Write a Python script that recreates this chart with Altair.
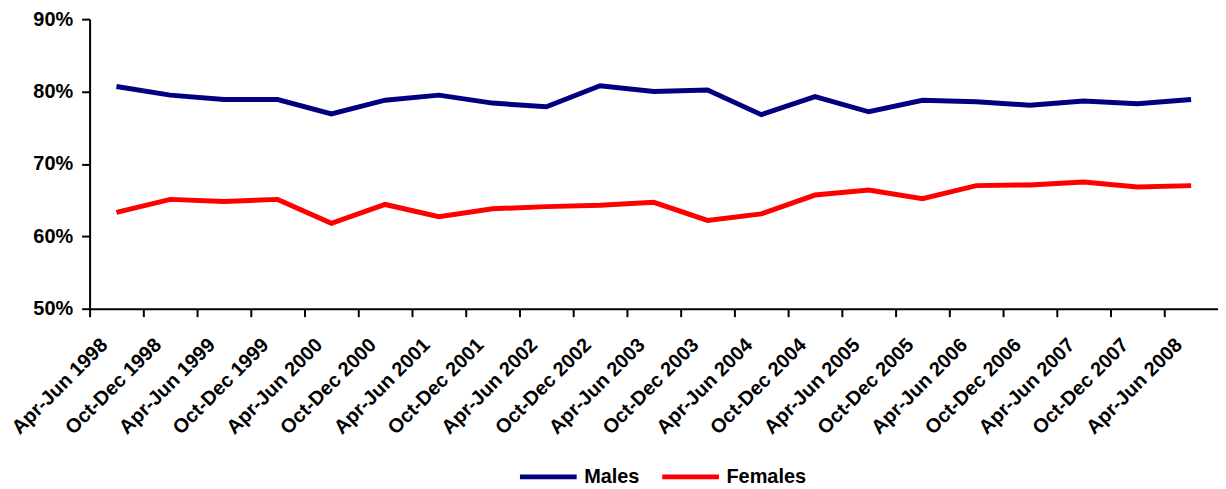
import altair as alt
import pandas as pd

periods = [
    "Apr-Jun 1998", "Oct-Dec 1998", "Apr-Jun 1999", "Oct-Dec 1999", "Apr-Jun 2000",
    "Oct-Dec 2000", "Apr-Jun 2001", "Oct-Dec 2001", "Apr-Jun 2002", "Oct-Dec 2002",
    "Apr-Jun 2003", "Oct-Dec 2003", "Apr-Jun 2004", "Oct-Dec 2004", "Apr-Jun 2005",
    "Oct-Dec 2005", "Apr-Jun 2006", "Oct-Dec 2006", "Apr-Jun 2007", "Oct-Dec 2007",
    "Apr-Jun 2008",
]
males = [80.7, 79.5, 78.9, 78.9, 76.9, 78.8, 79.5, 78.4, 77.9, 80.8, 80.0,
         80.2, 76.8, 79.3, 77.2, 78.8, 78.6, 78.1, 78.7, 78.3, 78.9]
females = [63.3, 65.1, 64.8, 65.1, 61.8, 64.4, 62.7, 63.8, 64.1, 64.3, 64.7,
           62.2, 63.1, 65.7, 66.4, 65.2, 67.0, 67.1, 67.5, 66.8, 67.0]
series = ["Males", "Females"]
colors = ["#000080", "#FF0000"]

rows = []
for p, m, f in zip(periods, males, females):
    rows.append({"period": p, "series": "Males", "value": m / 100})
    rows.append({"period": p, "series": "Females", "value": f / 100})
df = pd.DataFrame(rows)

FONT = "Liberation Sans"
W, H = 1134, 291

chart = alt.Chart(df).mark_line(strokeWidth=5).encode(
    x=alt.X("period:N", sort=periods, title=None,
            scale=alt.Scale(type="band", paddingInner=0, paddingOuter=0),
            axis=alt.Axis(bandPosition=0, labelAngle=-45, labelAlign="right",
                          labelBaseline="middle", labelOffset=-12,
                          labelPadding=25, tickSize=8, tickWidth=2,
                          tickColor="black", domainColor="black", domainWidth=2,
                          labelFont=FONT, labelFontSize=20, labelFontWeight="bold",
                          labelColor="black", grid=False, labelOverlap=False)),
    y=alt.Y("value:Q", title=None,
            scale=alt.Scale(domain=[0.5, 0.9], nice=False, zero=False),
            axis=alt.Axis(values=[0.5, 0.6, 0.7, 0.8, 0.9], format=".0%",
                          tickSize=8, tickWidth=2, tickColor="black",
                          domainColor="black", domainWidth=2, labelPadding=9,
                          labelFont=FONT, labelFontSize=20, labelFontWeight="bold",
                          labelColor="black", grid=False)),
    color=alt.Color("series:N", title=None,
                    scale=alt.Scale(domain=series, range=colors),
                    legend=alt.Legend(orient="none", direction="horizontal",
                                      legendX=430, legendY=429,
                                      symbolType="stroke", symbolSize=3249,
                                      symbolStrokeWidth=5, labelOffset=5,
                                      columnPadding=12, labelFont=FONT,
                                      labelFontSize=20, labelFontWeight="bold",
                                      labelColor="black")),
).properties(
    width=W, height=H,
    autosize=alt.AutoSizeParams(type="none"),
    padding={"left": 82, "top": 10, "right": 0, "bottom": 178},
).configure_view(stroke=None)

chart.save("out.html", embed_options={"renderer": "svg", "actions": False})
